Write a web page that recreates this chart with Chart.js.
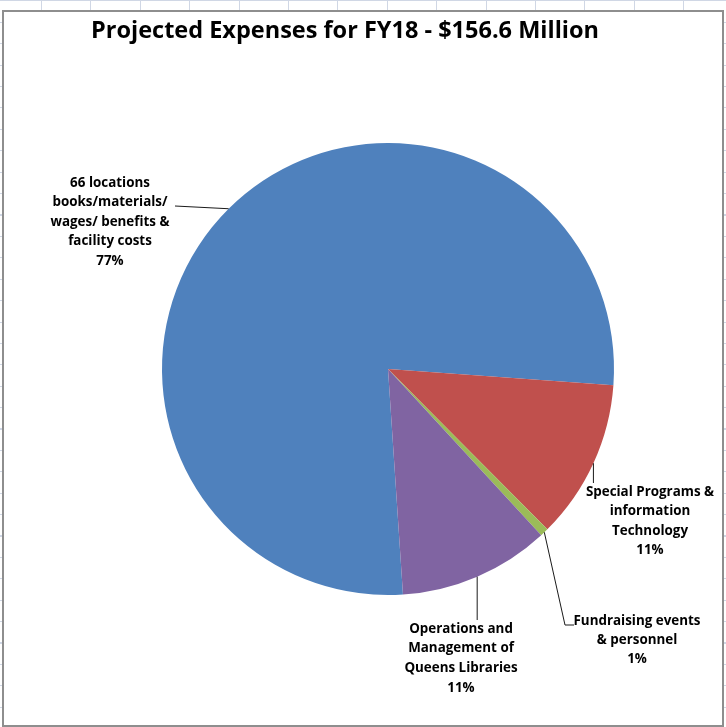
<!DOCTYPE html>
<html>
<head>
<meta charset="utf-8">
<script src="https://cdn.jsdelivr.net/npm/chart.js@4.4.1/dist/chart.umd.min.js"></script>
<style>
    html, body {
        margin: 0;
        padding: 0;
        width: 726px;
        height: 727px;
        overflow: hidden;
        /* spreadsheet cells behind the chart */
        background-color: #ffffff;
        background-image:
            repeating-linear-gradient(to right, transparent 0, transparent 41px, #d0d7e5 41px, #d0d7e5 42px, transparent 42px, transparent 49.4px),
            repeating-linear-gradient(to bottom, transparent 0, transparent 0.5px, #d0d7e5 0.5px, #d0d7e5 1.5px, transparent 1.5px, transparent 21.4px);
    }
    #wrap {
        position: absolute;
        left: 0;
        top: 0;
        width: 726px;
        height: 727px;
    }
</style>
</head>
<body>
<div id="wrap"><canvas id="pieChart"></canvas></div>
<script>
// 数据
const chartTitle = 'Projected Expenses for FY18 - $156.6 Million';
const categories = [
    '66 locations books/materials/ wages/ benefits & facility costs',
    'Special Programs & information Technology',
    'Fundraising events & personnel',
    'Operations and Management of Queens Libraries'
];
const shares = [77.2, 11.4, 0.6, 10.8];
const sliceColors = ['#4f81bd', '#c0504d', '#9bbb59', '#8064a2'];
// 标签换行 (same order as categories)
const labelLines = [
    ['66 locations', 'books/materials/', 'wages/ benefits &', 'facility costs'],
    ['Special Programs &', 'information', 'Technology'],
    ['Fundraising events', '& personnel'],
    ['Operations and', 'Management of', 'Queens Libraries']
];

// 标签位置 (page pixels): text centre x, first line y, line step, leader bend points
const labelLayout = [
    { x: 110, y: 183, step: 19.5, leader: [[175, 206]] },
    { x: 650, y: 492, step: 19.5, leader: 'down', to: 483 },
    { x: 637, y: 621, step: 19, leader: [[565, 625], [574, 625]] },
    { x: 461, y: 629, step: 19.6, leader: 'down', to: 620 }
];

const FONT = '"Open Sans", "Noto Sans", sans-serif';

// 图框 + 标题 + 引线标签
const framePlugin = {
    id: 'frame',
    beforeDraw(chart) {
        const ctx = chart.ctx;
        ctx.save();
        ctx.fillStyle = '#ffffff';
        ctx.fillRect(3, 11, 720, 715);
        ctx.strokeStyle = '#8e8e8e';
        ctx.lineWidth = 2;
        ctx.strokeRect(3, 11, 720, 715);
        ctx.fillStyle = '#000000';
        ctx.font = 'bold 23.5px ' + FONT;
        ctx.textAlign = 'center';
        ctx.textBaseline = 'middle';
        ctx.fillText(chartTitle, 345, 31);
        ctx.restore();
    },
    afterDatasetsDraw(chart) {
        const ctx = chart.ctx;
        const meta = chart.getDatasetMeta(0);
        ctx.save();
        meta.data.forEach(function(arc, i) {
            const p = arc.getProps(['x', 'y', 'startAngle', 'endAngle', 'outerRadius']);
            const mid = (p.startAngle + p.endAngle) / 2;
            const ex = p.x + Math.cos(mid) * p.outerRadius;
            const ey = p.y + Math.sin(mid) * p.outerRadius;
            const lay = labelLayout[i];

            // 引线
            ctx.strokeStyle = '#1a1a1a';
            ctx.lineWidth = 1;
            ctx.beginPath();
            ctx.moveTo(ex, ey);
            if (lay.leader === 'down') {
                ctx.lineTo(ex, lay.to);
            } else {
                lay.leader.forEach(pt => ctx.lineTo(pt[0], pt[1]));
            }
            ctx.stroke();

            // 文字
            const lines = labelLines[i].concat([Math.round(shares[i]) + '%']);
            ctx.fillStyle = '#000000';
            ctx.font = 'bold 13.4px ' + FONT;
            ctx.textAlign = 'center';
            ctx.textBaseline = 'middle';
            lines.forEach(function(t, k) {
                ctx.fillText(t, lay.x, lay.y + k * lay.step);
            });
        });
        ctx.restore();
    }
};

document.addEventListener('DOMContentLoaded', function() {
    const ctx = document.getElementById('pieChart').getContext('2d');
    new Chart(ctx, {
        type: 'pie',
        data: {
            labels: categories,
            datasets: [{
                data: shares,
                backgroundColor: sliceColors,
                borderWidth: 0,
                hoverOffset: 0,
                offset: 0
            }]
        },
        options: {
            responsive: true,
            maintainAspectRatio: false,
            animation: false,
            rotation: 176.2,
            layout: {
                padding: { top: 143, bottom: 132, left: 120, right: 70 }
            },
            plugins: {
                legend: { display: false },
                tooltip: { enabled: false },
                title: { display: false }
            }
        },
        plugins: [framePlugin]
    });
});
</script>
</body>
</html>
